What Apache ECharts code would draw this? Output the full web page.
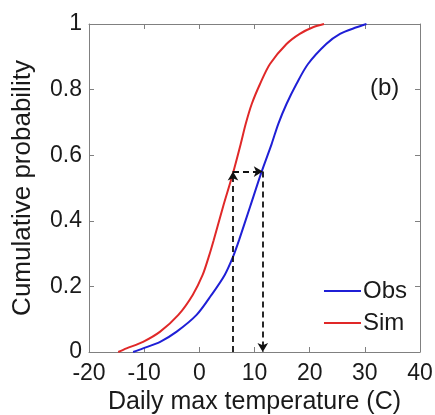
<!DOCTYPE html>
<html>
<head>
<meta charset="utf-8">
<script src="https://cdn.jsdelivr.net/npm/echarts@6/dist/echarts.min.js"></script>
<style>html,body{margin:0;padding:0;background:#fff;}#c{width:435px;height:415px;}</style>
</head>
<body>
<div id="c"></div>
<script>
// Data: [daily max temperature (C), cumulative probability]
var obsCdf = [[-12.0,0],[-10.2,0.011],[-7.1,0.031],[-4.1,0.062],[-0.5,0.113],[2.2,0.174],[4.6,0.235],[6.1,0.29],[7.2,0.341],[9.2,0.443],[11.3,0.55],[13.1,0.634],[14.3,0.695],[15.8,0.756],[17.6,0.817],[19.7,0.878],[23.0,0.939],[25.5,0.97],[28.5,0.99],[30.3,1.0]];
var simCdf = [[-14.7,0],[-13.2,0.011],[-10.2,0.031],[-7.1,0.062],[-3.8,0.113],[-1.2,0.174],[0.6,0.235],[1.7,0.29],[2.6,0.341],[4.3,0.443],[6.1,0.545],[7.5,0.634],[8.4,0.695],[9.5,0.756],[11.0,0.817],[12.8,0.878],[15.8,0.939],[18.2,0.97],[20.6,0.99],[22.6,1.0]];
var seriesNames = ['Obs', 'Sim'];
var arrowX = [6.1, 11.5];   // sim and obs temperature at the same probability
var arrowProb = 0.55;
var xTicks = [-20, -10, 0, 10, 20, 30, 40];
var yTicks = [0, 0.2, 0.4, 0.6, 0.8, 1];
var panelLabel = '(b)';
var xName = 'Daily max temperature (C)';
var yName = 'Cumulative probability';

var FONT = '"Liberation Sans", Arial, sans-serif';
var TXT = '#1a1a1a';
var AX = '#808080';

var chart = echarts.init(document.getElementById('c'));
function axisCommon(showLabel) {
  return {
    axisLine: {show: true, onZero: false, lineStyle: {color: AX, width: 1}},
    axisTick: {show: true, inside: true, length: 5, lineStyle: {color: AX}},
    splitLine: {show: false},
    axisLabel: {show: showLabel, color: TXT, fontSize: 23, fontFamily: FONT}
  };
}
var xMin = xTicks[0], xMax = xTicks[xTicks.length - 1];
var yMin = yTicks[0], yMax = yTicks[yTicks.length - 1];
var xBottom = Object.assign(axisCommon(true), {
  type: 'value', position: 'bottom', min: xMin, max: xMax, interval: 10,
  name: xName, nameLocation: 'middle', nameGap: 38,
  nameTextStyle: {color: TXT, fontSize: 25, fontFamily: FONT}
});
xBottom.axisLabel.margin = 10;
var xTop = Object.assign(axisCommon(false), {type: 'value', position: 'top', min: xMin, max: xMax, interval: 10});
var yLeft = Object.assign(axisCommon(true), {
  type: 'value', position: 'left', min: yMin, max: yMax, interval: 0.2,
  name: yName, nameLocation: 'middle', nameGap: 53,
  nameTextStyle: {color: TXT, fontSize: 26, fontFamily: FONT}
});
yLeft.axisLabel.margin = 7;
var yRight = Object.assign(axisCommon(false), {type: 'value', position: 'right', min: yMin, max: yMax, interval: 0.2});

chart.setOption({
  animation: false,
  backgroundColor: '#fff',
  grid: {left: 89, right: 15, top: 24, bottom: 63, containLabel: false, outerBoundsMode: 'none'},
  xAxis: [xBottom, xTop],
  yAxis: [yLeft, yRight],
  legend: {
    data: seriesNames, orient: 'vertical', right: 28, top: 279, padding: 0,
    itemWidth: 37, itemHeight: 2, itemGap: 8, icon: 'rect',
    textStyle: {color: TXT, fontSize: 24, fontFamily: FONT, lineHeight: 24, padding: [0,0,0,-3]}
  },
  graphic: [{
    type: 'text', left: 370, top: 76,
    style: {text: panelLabel, fill: TXT, font: '24px ' + FONT}
  }],
  series: [
    {name: seriesNames[0], type: 'line', data: obsCdf, showSymbol: false, smooth: 0.3,
     lineStyle: {color: '#1f1fd6', width: 2}, itemStyle: {color: '#1f1fd6'}},
    {name: seriesNames[1], type: 'line', data: simCdf, showSymbol: false, smooth: 0.3,
     lineStyle: {color: '#e02828', width: 2}, itemStyle: {color: '#e02828'},
     markLine: {
       silent: true, symbol: ['none', 'arrow'], symbolSize: [8, 9],
       label: {show: false},
       lineStyle: {color: '#111', width: 1.8, type: [6, 4]},
       data: [
         [{coord: [arrowX[0], yMin]}, {coord: [arrowX[0], arrowProb]}],
         [{coord: [arrowX[0], arrowProb]}, {coord: [arrowX[1], arrowProb]}],
         [{coord: [arrowX[1], arrowProb]}, {coord: [arrowX[1], yMin]}]
       ]
     }}
  ]
});
</script>
</body>
</html>
